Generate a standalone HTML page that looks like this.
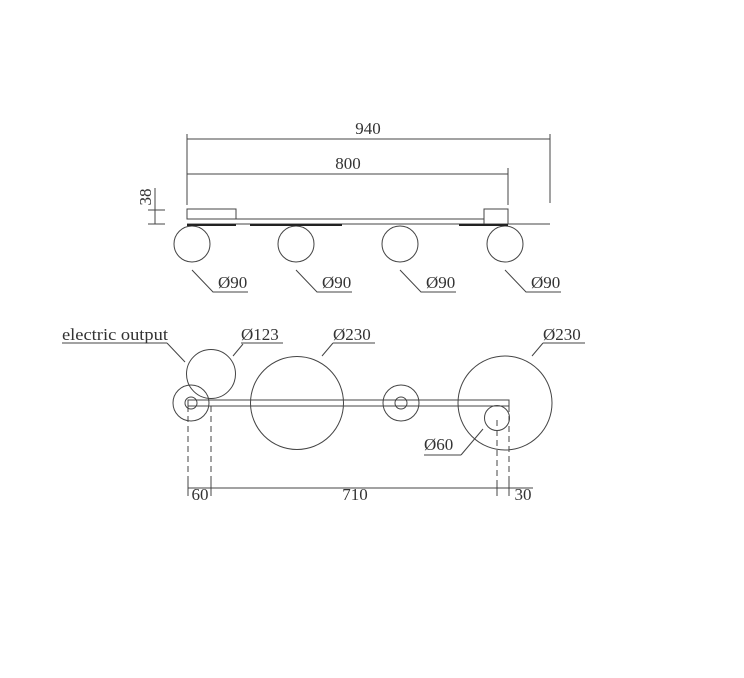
<!DOCTYPE html>
<html><head><meta charset="utf-8"><style>
html,body{margin:0;padding:0;background:#fff}
svg{display:block}
text{font-family:"Liberation Serif",serif;font-size:17px;fill:#333}
</style></head><body>
<svg width="744" height="678" viewBox="0 0 744 678" xmlns="http://www.w3.org/2000/svg">
<g stroke="#444" stroke-width="1" fill="none">
<line x1="187" y1="139" x2="550" y2="139"/>
<line x1="187" y1="134" x2="187" y2="205"/>
<line x1="550" y1="134" x2="550" y2="203"/>
<line x1="187" y1="174" x2="508" y2="174"/>
<line x1="508" y1="168" x2="508" y2="205"/>
<line x1="155" y1="188" x2="155" y2="224"/>
<line x1="148" y1="210" x2="165" y2="210"/>
<line x1="148" y1="224" x2="165" y2="224"/>
<rect x="187" y="209" width="49" height="10"/>
<rect x="484" y="209" width="24" height="15"/>
<line x1="187" y1="219" x2="484" y2="219"/>
<line x1="187" y1="224" x2="550" y2="224"/>
<circle cx="192" cy="244" r="18"/>
<circle cx="296" cy="244" r="18"/>
<circle cx="400" cy="244" r="18"/>
<circle cx="505" cy="244" r="18"/>
<polyline points="192,270 213,292 248,292"/>
<polyline points="296,270 317,292 352,292"/>
<polyline points="400,270 421,292 456,292"/>
<polyline points="505,270 526,292 561,292"/>
</g>
<g stroke="#222" stroke-width="2">
<line x1="187" y1="225" x2="236" y2="225"/>
<line x1="250" y1="225" x2="342" y2="225"/>
<line x1="459" y1="225" x2="508" y2="225"/>
</g>
<text x="368" y="134" text-anchor="middle">940</text>
<text x="348" y="169" text-anchor="middle">800</text>
<text transform="translate(151,197) rotate(-90)" text-anchor="middle">38</text>
<text x="218" y="288">Ø90</text>
<text x="322" y="288">Ø90</text>
<text x="426" y="288">Ø90</text>
<text x="531" y="288">Ø90</text>

<g stroke="#444" stroke-width="1" fill="none">
<line x1="62" y1="343" x2="167" y2="343"/>
<line x1="167" y1="343" x2="185" y2="362"/>
<line x1="241" y1="343" x2="283" y2="343"/>
<line x1="233" y1="356" x2="243" y2="344"/>
<line x1="333" y1="343" x2="375" y2="343"/>
<line x1="322" y1="356" x2="333" y2="343"/>
<line x1="543" y1="343" x2="585" y2="343"/>
<line x1="532" y1="356" x2="543" y2="343"/>
<circle cx="211" cy="374" r="24.5"/>
<circle cx="191" cy="403" r="18"/>
<circle cx="191" cy="403" r="6"/>
<rect x="188" y="400" width="321" height="6"/>
<circle cx="297" cy="403" r="46.5"/>
<circle cx="401" cy="403" r="18"/>
<circle cx="401" cy="403" r="6"/>
<circle cx="505" cy="403" r="47"/>
<circle cx="497" cy="418" r="12.5"/>
<line x1="424" y1="455" x2="461" y2="455"/>
<line x1="461" y1="455" x2="483" y2="429"/>
<g stroke-dasharray="6,4">
<line x1="188" y1="406" x2="188" y2="480"/>
<line x1="211" y1="406" x2="211" y2="480"/>
<line x1="497" y1="420" x2="497" y2="480"/>
<line x1="509" y1="406" x2="509" y2="480"/>
</g>
<line x1="188" y1="488" x2="533" y2="488"/>
<line x1="188" y1="480" x2="188" y2="496"/>
<line x1="211" y1="480" x2="211" y2="496"/>
<line x1="497" y1="480" x2="497" y2="496"/>
<line x1="509" y1="480" x2="509" y2="496"/>
</g>
<text x="62" y="340" textLength="106" lengthAdjust="spacingAndGlyphs">electric output</text>
<text x="241" y="340">Ø123</text>
<text x="333" y="340">Ø230</text>
<text x="543" y="340">Ø230</text>
<text x="424" y="450">Ø60</text>
<text x="200" y="500" text-anchor="middle">60</text>
<text x="355" y="500" text-anchor="middle">710</text>
<text x="523" y="500" text-anchor="middle">30</text>
</svg>
</body></html>
